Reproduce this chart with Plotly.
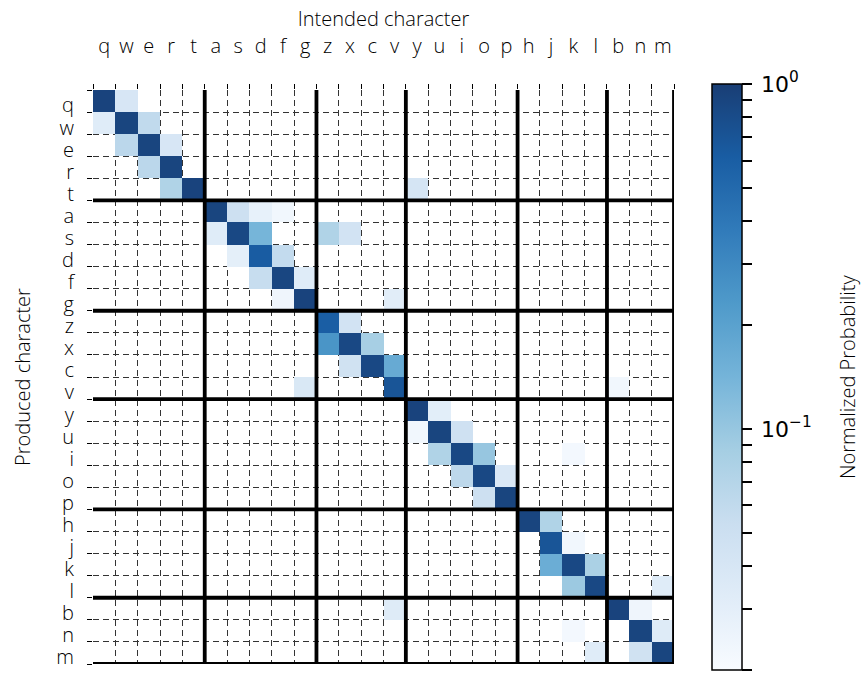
import numpy as np
import plotly.graph_objects as go

# ---------------- data ----------------
letters = list("qwertasdfgzxcvyuiophjklbnm")
group_sizes = [5, 5, 4, 5, 4, 3]

# diagonal (produced == intended)
diag = [0.92, 0.90, 0.90, 0.90, 0.92,
        0.90, 0.85, 0.62, 0.88, 0.92,
        0.60, 0.85, 0.85, 0.70,
        0.92, 0.90, 0.85, 0.85, 0.90,
        0.90, 0.70, 0.85, 0.85,
        0.92, 0.90, 0.90]

# off-diagonal confusions: produced row, intended column, probability
off_rows = ["q", "w", "w", "e", "e", "r", "t", "t",
            "a", "a", "a", "s", "s", "s", "s", "d", "d", "f", "f", "g", "g",
            "z", "x", "x", "c", "c", "v", "v",
            "y", "u", "u", "i", "i", "i", "o", "o", "p",
            "h", "j", "k", "k", "l", "l",
            "b", "b", "n", "n", "m", "m"]
off_cols = ["w", "q", "e", "w", "r", "e", "r", "y",
            "s", "d", "f", "a", "d", "z", "x", "s", "f", "d", "g", "f", "v",
            "x", "z", "c", "x", "v", "g", "b",
            "u", "y", "i", "u", "o", "k", "i", "p", "o",
            "j", "k", "j", "l", "k", "m",
            "v", "n", "k", "m", "l", "n"]
off_vals = [0.040, 0.033, 0.060, 0.065, 0.040, 0.065, 0.075, 0.042,
            0.050, 0.028, 0.023, 0.033, 0.140, 0.075, 0.045, 0.030, 0.058, 0.055, 0.033, 0.024, 0.032,
            0.045, 0.250, 0.085, 0.047, 0.170, 0.038, 0.023,
            0.031, 0.023, 0.048, 0.075, 0.100, 0.022, 0.063, 0.037, 0.050,
            0.075, 0.023, 0.160, 0.080, 0.095, 0.033,
            0.034, 0.024, 0.022, 0.034, 0.033, 0.047]

vmin, vmax = 0.02, 1.0
major_ticks = [1.0, 0.1]
major_text = ["\u200910<sup>0</sup>", "\u200910<sup>−1</sup>"]
minor_ticks = [0.9, 0.8, 0.7, 0.6, 0.5, 0.4, 0.3, 0.2,
               0.09, 0.08, 0.07, 0.06, 0.05, 0.04, 0.03, 0.02]

# matplotlib "Blues"
blues_hex = ["#f7fbff", "#deebf7", "#c6dbef", "#9ecae1", "#6baed6",
             "#4292c6", "#2171b5", "#08519c", "#08306b"]

# ---------------- build ----------------
n = len(letters)
M = np.full((n, n), np.nan)
for i, v in enumerate(diag):
    M[i, i] = v
for r, c, v in zip(off_rows, off_cols, off_vals):
    M[letters.index(r), letters.index(c)] = v
Z = np.log10(M)


def soften(hexcol, alpha=0.93):
    rgb = [int(hexcol[k:k + 2], 16) for k in (1, 3, 5)]
    return "rgb({},{},{})".format(*[round(alpha * c + (1 - alpha) * 255) for c in rgb])


colorscale = [[k / (len(blues_hex) - 1), soften(h)] for k, h in enumerate(blues_hex)]

cb_vals = [float(np.log10(v)) for v in major_ticks + minor_ticks]
cb_text = major_text + [""] * len(minor_ticks)

FONT = "Open Sans"
FW = 300
FS = 20
W_PLOT = 862 - 93 - 188

fig = go.Figure(go.Heatmap(
    z=Z, x=list(range(n)), y=list(range(n)),
    zmin=np.log10(vmin), zmax=np.log10(vmax),
    colorscale=colorscale, hoverongaps=False,
    colorbar=dict(
        x=(712 - 93) / W_PLOT, xanchor="left", xpad=0, ypad=0,
        y=0.5, yanchor="middle",
        len=586, lenmode="pixels", thickness=30, thicknessmode="pixels",
        outlinewidth=1.5, outlinecolor="black",
        tickmode="array", tickvals=cb_vals, ticktext=cb_text,
        ticks="outside", ticklen=10, tickwidth=1.5, tickcolor="black",
        tickfont=dict(family="DejaVu Sans", size=22, color="black"),
    ),
))

bounds = [-0.5 + k for k in range(n + 1)]
minor_grid = dict(tickmode="array", tickvals=bounds, ticks="outside", ticklen=5,
                  tickwidth=1, tickcolor="black", showgrid=True,
                  gridcolor="#333333", gridwidth=1, griddash="6px,4px")
axis_common = dict(
    tickmode="array", ticktext=letters,
    ticks="", showgrid=False, zeroline=False, showline=False,
    tickfont=dict(family=FONT, size=FS, color="black", weight=FW),
    minor=minor_grid,
)

fig.update_xaxes(range=[-0.5, n - 0.5], side="top", ticklabelstandoff=32,
                 tickvals=list(range(n)),
                 title=dict(text="Intended character", standoff=0,
                            font=dict(family=FONT, size=FS, color="black", weight=FW)),
                 **axis_common)
# row labels sit slightly below the row centres, as in the original
fig.update_yaxes(range=[n - 0.5, -0.5], ticklabelstandoff=18,
                 tickvals=[k + 0.2 for k in range(n)],
                 title=dict(text="Produced character", standoff=20,
                            font=dict(family=FONT, size=FS, color="black", weight=FW)),
                 **axis_common)

# thick group separators
cum = np.cumsum(group_sizes)
shapes = []
for b in cum:
    pos = b - 0.5
    shapes.append(dict(type="line", xref="x", yref="y", x0=pos, x1=pos,
                       y0=-0.5, y1=n - 0.5, line=dict(color="black", width=3.8)))
    shapes.append(dict(type="line", xref="x", yref="y", y0=pos, y1=pos,
                       x0=-0.5, x1=n - 0.5, line=dict(color="black", width=3.8)))
fig.update_layout(shapes=shapes)

# colourbar label
fig.add_annotation(text="Normalized Probability", textangle=-90,
                   xref="paper", yref="paper", x=(847 - 93) / W_PLOT, y=0.5,
                   xanchor="center", yanchor="middle", showarrow=False,
                   font=dict(family=FONT, size=FS, color="black", weight=FW))

fig.update_layout(
    width=862, height=673,
    margin=dict(l=93, r=188, t=90, b=3, pad=0),
    paper_bgcolor="white", plot_bgcolor="white",
    font=dict(family=FONT, size=FS, color="black"),
)

fig.write_html("out.html")
